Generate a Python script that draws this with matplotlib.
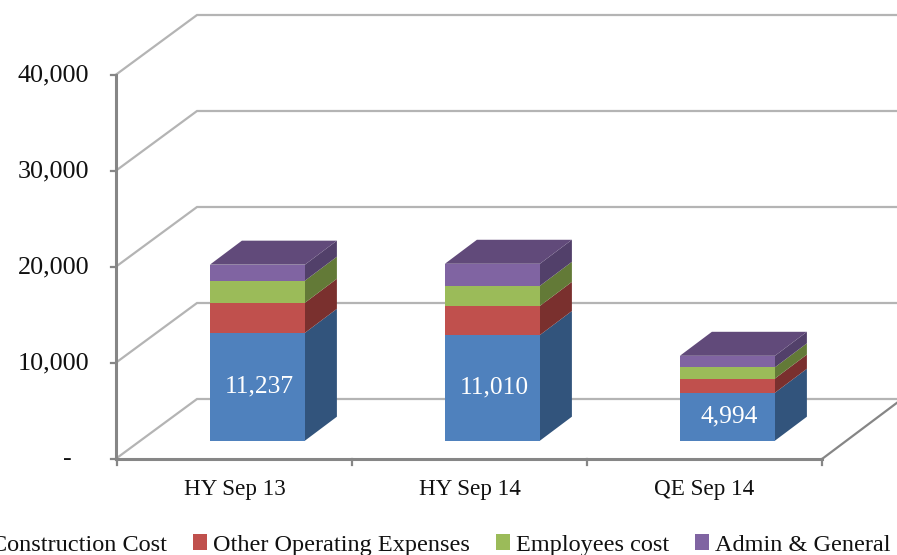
import matplotlib
matplotlib.use("Agg")
import matplotlib.pyplot as plt
from matplotlib.patches import Polygon, Patch

categories = ["HY Sep 13", "HY Sep 14", "QE Sep 14"]
construction = [11237, 11010, 4994]
other_opex = [3130, 3030, 1480]
employees = [2300, 2090, 1170]
admin = [1670, 2300, 1200]
series_names = ["Construction Cost", "Other Operating Expenses", "Employees cost", "Admin & General Expenses"]
y_ticks = [0, 10000, 20000, 30000, 40000]
y_labels = ["-", "10,000", "20,000", "30,000", "40,000"]
bar_labels = ["11,237", "11,010", "4,994"]

W, H = 897, 555
FONT = "Liberation Serif"
front_cols = ["#4F81BD", "#C0504D", "#9BBB59", "#8064A2"]
side_cols = ["#32547C", "#7A302E", "#637A37", "#52406A"]
top_col = "#614A7A"

fig = plt.figure(figsize=(W / 100, H / 100), dpi=100)
ax = fig.add_axes([0, 0, 1, 1])
px_per_cat = (822 - 117) / 3
px_per_val = (459 - 75) / 40000
ax.set_xlim((0 - 117) / px_per_cat, (W - 117) / px_per_cat)
ax.set_ylim(-(H - 459) / px_per_val, 459 / px_per_val)
ax.axis("off")

DX = 80 / px_per_cat
DY = 60 / px_per_val

def proj(c, v, z):
    return (c + z * DX, v + z * DY)

GRID = "#B4B4B4"
AXC = "#868686"
LEFT = -1.5 / px_per_cat
for v in y_ticks:
    ax.plot(*zip(proj(LEFT, v, 0), proj(0, v, 1), proj(3, v, 1)), color=GRID, lw=1.6, zorder=1,
            solid_joinstyle="miter")
ax.plot(*zip(proj(3, 0, 0), proj(3, 0, 1)), color=AXC, lw=1.6, zorder=2)
ax.plot([LEFT, LEFT], [0, 40000], color=AXC, lw=2.2, zorder=2)
ax.plot([LEFT, 3], [0, 0], color=AXC, lw=2.2, zorder=2)
tick_dx = 5 / px_per_cat
tick_dy = 6 / px_per_val
for v, lab in zip(y_ticks, y_labels):
    ax.plot([LEFT - tick_dx, LEFT], [v, v], color=AXC, lw=1.6, zorder=2)
    xoff = -45 / px_per_cat if lab == "-" else -28 / px_per_cat
    ax.text(xoff, v, lab, ha="right", va="center", family=FONT, fontsize=18.8, color="#111111")
for c in range(4):
    ax.plot([c, c], [0, -tick_dy], color=AXC, lw=1.6, zorder=2)

BW = 95 / px_per_cat
SHIFT = -1.5 / px_per_cat
Z0, Z1 = 0.305, 0.705
stack = [construction, other_opex, employees, admin]
for i, cat in enumerate(categories):
    c = i + 0.5 + SHIFT
    x0, x1 = c - BW / 2, c + BW / 2
    base = 0
    for s, vals in enumerate(stack):
        top = base + vals[i]
        ax.add_patch(Polygon([proj(x0, base, Z0), proj(x1, base, Z0), proj(x1, top, Z0), proj(x0, top, Z0)],
                             closed=True, fc=front_cols[s], ec="none", zorder=4))
        ax.add_patch(Polygon([proj(x1, base, Z0), proj(x1, base, Z1), proj(x1, top, Z1), proj(x1, top, Z0)],
                             closed=True, fc=side_cols[s], ec="none", zorder=3))
        base = top
    ax.add_patch(Polygon([proj(x0, base, Z0), proj(x1, base, Z0), proj(x1, base, Z1), proj(x0, base, Z1)],
                         closed=True, fc=top_col, ec="none", zorder=3))
    mx, my = proj(c + 1.5 / px_per_cat, construction[i] / 2, Z0)
    ax.text(mx, my, bar_labels[i], ha="center", va="center", family=FONT, fontsize=18.4, color="white", zorder=5)
    ax.text(i + 0.5, -36 / px_per_val, cat, ha="center", va="baseline", family=FONT, fontsize=16.7, color="#111111")

handles = [Patch(fc=col, ec="none") for col in front_cols]
leg = fig.legend(handles, series_names, ncols=4, loc="center", bbox_to_anchor=(480 / W, 1 - 545 / H),
                 frameon=False, prop={"family": FONT, "size": 17.5}, handlelength=0.56, handleheight=0.6,
                 handletextpad=0.25, columnspacing=1.07, borderaxespad=0, borderpad=0)
for t in leg.get_texts():
    t.set_color("#111111")

fig.savefig("out.png", dpi=100)
